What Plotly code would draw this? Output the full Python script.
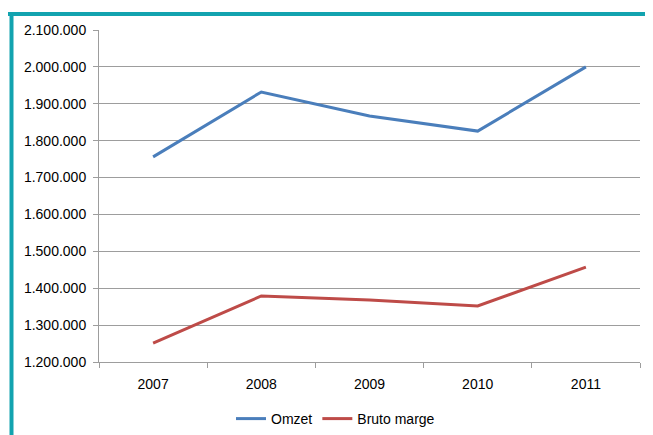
import plotly.graph_objects as go

years = ["2007", "2008", "2009", "2010", "2011"]
omzet = [1756000, 1932000, 1867000, 1826000, 2000000]
bruto_marge = [1251000, 1379000, 1368000, 1352000, 1457000]
y_ticks = [1200000, 1300000, 1400000, 1500000, 1600000, 1700000, 1800000, 1900000, 2000000, 2100000]

W, H = 653, 435
OFF = 8  # page body margin offset
ml, mt = 99 - OFF, 30 - OFF
mr = W - (640 - OFF)
mb = H - (362 - OFF)
pw, ph = W - ml - mr, H - mt - mb

fig = go.Figure()
fig.add_trace(go.Scatter(x=years, y=omzet, name="Omzet", mode="lines",
                         line=dict(color="#4A7EBB", width=3)))
fig.add_trace(go.Scatter(x=years, y=bruto_marge, name="Bruto marge", mode="lines",
                         line=dict(color="#BE4B48", width=3)))

def px_x(p):
    return (p - OFF - ml) / pw

def px_y(p):
    return 1 - (p - OFF - mt) / ph

teal = "#12A3AF"
fig.add_shape(type="line", xref="paper", yref="paper",
              x0=px_x(8), x1=px_x(670), y0=px_y(14), y1=px_y(14),
              line=dict(color=teal, width=4))
fig.add_shape(type="line", xref="paper", yref="paper",
              x0=px_x(11.5), x1=px_x(11.5), y0=px_y(12), y1=px_y(450),
              line=dict(color=teal, width=4))

grid = "#9d9d9d"
fig.update_layout(
    width=W, height=H,
    margin=dict(l=ml, r=mr, t=mt, b=mb, autoexpand=False),
    paper_bgcolor="white", plot_bgcolor="white",
    separators=",.",
    font=dict(family="Liberation Sans", size=14, color="#000000"),
    showlegend=True,
    legend=dict(orientation="h", x=px_x(231), xanchor="left",
                y=px_y(419), yanchor="middle",
                font=dict(size=14), itemwidth=30, tracegroupgap=0),
    xaxis=dict(type="category", tickson="boundaries", ticks="outside", ticklen=5,
               tickcolor=grid, showline=True, linecolor=grid, linewidth=1,
               showgrid=False, range=[-0.5, 4.5], ticklabelstandoff=9,
               automargin=False),
    yaxis=dict(range=[1200000, 2100000], tickvals=y_ticks, tickformat=",d",
               ticks="outside", ticklen=5, tickcolor=grid,
               showline=True, linecolor=grid, linewidth=1,
               showgrid=True, gridcolor=grid, gridwidth=1, zeroline=False,
               ticklabelstandoff=4, automargin=False),
)

fig.write_html("out.html")
